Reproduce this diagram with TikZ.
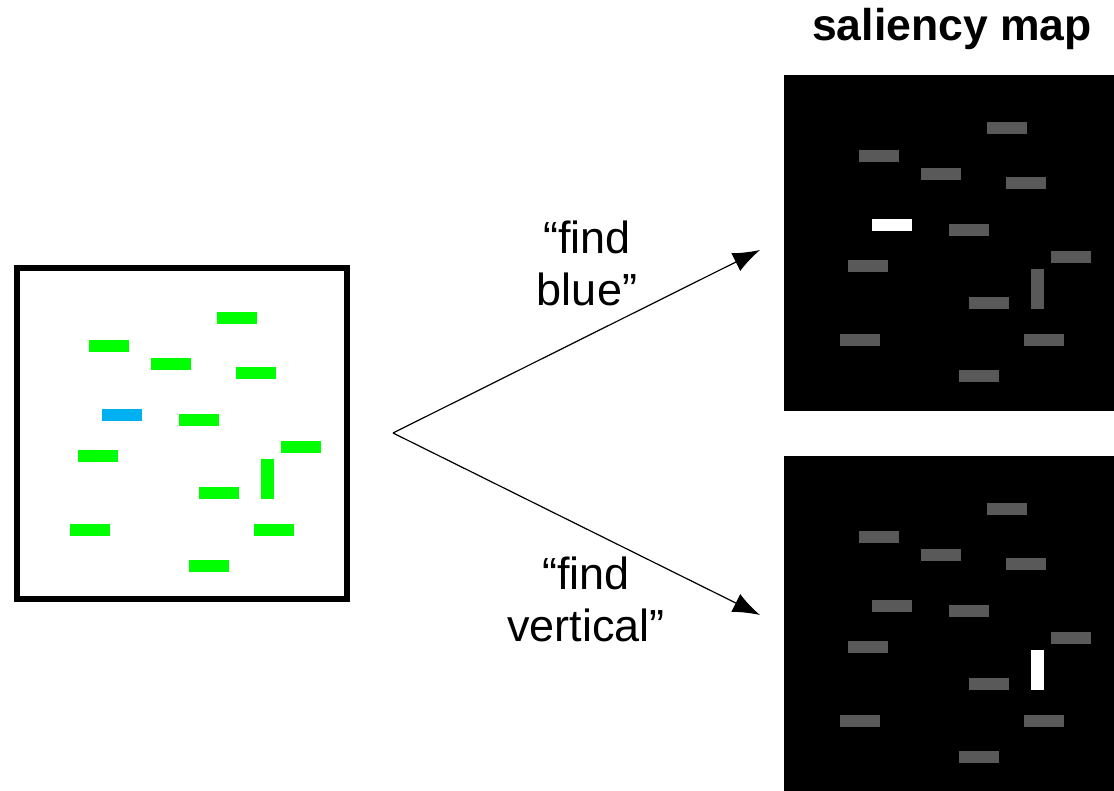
\documentclass[tikz,border=0pt]{standalone}
\usepackage{fontspec}
\setmainfont{Liberation Sans}
\usetikzlibrary{arrows.meta}
\definecolor{itemgreen}{HTML}{00FF00}
\definecolor{itemblue}{HTML}{00B0F0}
\definecolor{mapgray}{HTML}{595959}
\newcommand\hitem[3]{\fill[#1] (#2,#3) rectangle ++(40,12);}
\newcommand\vitem[3]{\fill[#1] (#2,#3) rectangle ++(13,40);}
% #1 regular items, #2 odd-colour item, #3 vertical item
\newcommand\searchfield[3]{%
  \hitem{#1}{217}{312}
  \hitem{#1}{89}{340}
  \hitem{#1}{151}{358}
  \hitem{#1}{236}{367}
  \hitem{#2}{102}{409}
  \hitem{#1}{179}{414}
  \hitem{#1}{281}{441}
  \hitem{#1}{78}{450}
  \vitem{#3}{261}{459}
  \hitem{#1}{199}{487}
  \hitem{#1}{70}{524}
  \hitem{#1}{254}{524}
  \hitem{#1}{189}{560}
}
\tikzset{
  label text/.style={font=\fontsize{45}{52}\selectfont, align=center, inner sep=0pt},
  title text/.style={font=\fontsize{44.5}{50}\selectfont\bfseries, inner sep=0pt},
  cue arrow/.style={line width=1.2pt, -{Latex[length=27pt,width=20pt]}},
}
\begin{document}
\begin{tikzpicture}[x=1pt,y=-1pt]
\useasboundingbox (0,0) rectangle (1114,791);
% input display
\draw[line width=6pt] (17,268) rectangle (347,599);
\searchfield{itemgreen}{itemblue}{itemgreen}
% saliency map for "find blue"
\fill[black] (784,75) rectangle (1114,411);
\begin{scope}[shift={(770,-190)}]
  \searchfield{mapgray}{white}{mapgray}
\end{scope}
% saliency map for "find vertical"
\fill[black] (784,456) rectangle (1114,791);
\begin{scope}[shift={(770,191)}]
  \searchfield{mapgray}{mapgray}{white}
\end{scope}
% title
\node[title text, anchor=base] (title) at (952,41) {saliency map};
% arrows
\coordinate (src) at (393,433);
\coordinate (tblue) at (760,250);
\coordinate (tvert) at (760,615);
\draw[cue arrow] (src) -- (tblue);
\draw[cue arrow] (src) -- (tvert);
\node[label text, anchor=base] (cueblue) at (587,306) {“find\\blue”};
\node[label text, anchor=base] (cuevert) at (586,641) {“find\\vertical”};
\end{tikzpicture}
\end{document}
